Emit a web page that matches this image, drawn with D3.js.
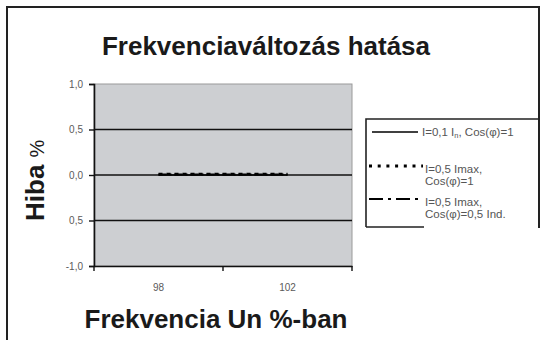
<!DOCTYPE html>
<html><head><meta charset="utf-8">
<script src="https://cdn.jsdelivr.net/npm/d3@7"></script>
<style>
html,body{margin:0;padding:0;background:#fff;}
svg{display:block;}
text{font-family:"Liberation Sans",Arial,sans-serif;}
</style></head>
<body>
<script>
const categories = ["98", "102"];
const yTickValues = [1, 0.5, 0, -0.5, -1];
const yTickLabels = ["1,0", "0,5", "0,0", "0,5", "-1,0"];
const seriesA = [0, 0];
const seriesB = [0.012, 0.012];
const seriesC = [0.006, 0.006];
const legendLabels = [
  ["I=0,1 I|n|, Cos(φ)=1"],
  ["I=0,5 Imax,", "Cos(φ)=1"],
  ["I=0,5 Imax,", "Cos(φ)=0,5 Ind."]
];

const W = 547, H = 340;
const svg = d3.select("body").append("svg").attr("width", W).attr("height", H);

// outer frame (partially visible)
svg.append("path")
  .attr("d", "M7,340 L7,7 L539,7 L539,228")
  .attr("fill", "none").attr("stroke", "#222").attr("stroke-width", 2);

const plot = {x0: 94, x1: 352, y0: 84, y1: 266};
const x = d3.scaleBand().domain(categories).range([plot.x0, plot.x1]);
const y = d3.scaleLinear().domain([-1, 1]).range([plot.y1, plot.y0]);

// plot background
svg.append("rect").attr("x", plot.x0).attr("y", plot.y0)
  .attr("width", plot.x1 - plot.x0).attr("height", plot.y1 - plot.y0)
  .attr("fill", "#cdcfd2").attr("stroke", "#9a9a9a").attr("stroke-width", 1);

// gridlines
svg.append("g").selectAll("line").data(yTickValues.filter(v => v !== 1 && v !== -1))
  .join("line")
  .attr("x1", plot.x0).attr("x2", plot.x1)
  .attr("y1", d => y(d)).attr("y2", d => y(d))
  .attr("stroke", "#111").attr("stroke-width", 1.4);

// y axis
const yAxis = d3.axisLeft(y).tickValues(yTickValues)
  .tickFormat((d, i) => yTickLabels[i]).tickSize(5).tickPadding(6);
const gy = svg.append("g").attr("transform", `translate(${plot.x0},0)`).call(yAxis);
gy.select(".domain").attr("stroke", "#111").attr("stroke-width", 1.6);
gy.selectAll(".tick line").attr("stroke", "#111").attr("stroke-width", 1.4);
gy.selectAll(".tick text").attr("font-size", 10).attr("fill", "#5a5a5a")
  .attr("font-family", "'DejaVu Sans',sans-serif");

// x axis
const xAxis = d3.axisBottom(x).tickSize(0).tickPadding(18);
const gx = svg.append("g").attr("transform", `translate(0,${plot.y1})`).call(xAxis);
gx.select(".domain").attr("stroke", "#111").attr("stroke-width", 1.6);
gx.selectAll(".tick text").attr("font-size", 10).attr("fill", "#5a5a5a")
  .attr("font-family", "'DejaVu Sans',sans-serif");
// category separator ticks
const bounds = [plot.x0, ...categories.map(c => x(c) + x.bandwidth())];
gx.append("g").selectAll("line").data(bounds).join("line")
  .attr("x1", d => d).attr("x2", d => d).attr("y1", 0).attr("y2", 5)
  .attr("stroke", "#111").attr("stroke-width", 1.4);

// series
const line = d3.line().x((d, i) => x(categories[i]) + x.bandwidth() / 2).y(d => y(d));
svg.append("path").datum(seriesA).attr("d", line)
  .attr("fill", "none").attr("stroke", "#000").attr("stroke-width", 1.4);
svg.append("path").datum(seriesC).attr("d", line)
  .attr("fill", "none").attr("stroke", "#000").attr("stroke-width", 2)
  .attr("stroke-dasharray", "8,3,2,3");
svg.append("path").datum(seriesB).attr("d", line)
  .attr("fill", "none").attr("stroke", "#000").attr("stroke-width", 2.5)
  .attr("stroke-dasharray", "4,4");

// title
svg.append("text").attr("x", 266).attr("y", 55).attr("text-anchor", "middle")
  .attr("font-size", 26).attr("font-weight", "bold").attr("fill", "#1a1a1a")
  .text("Frekvenciaváltozás hatása");

// y title
const yt = svg.append("text").attr("transform", "translate(44,221) rotate(-90)")
  .attr("text-anchor", "start").attr("fill", "#1a1a1a");
yt.append("tspan").attr("font-size", 26).attr("font-weight", "bold").text("Hiba ");
yt.append("tspan").attr("font-size", 20).text("%");

// x title
svg.append("text").attr("x", 216).attr("y", 328).attr("text-anchor", "middle")
  .attr("font-size", 26).attr("font-weight", "bold").attr("fill", "#1a1a1a")
  .text("Frekvencia Un %-ban");

// legend
const lg = svg.append("g");
lg.append("path").attr("d", "M366,227 L366,119 L539,119 M366,227 L424,227")
  .attr("fill", "none").attr("stroke", "#222").attr("stroke-width", 1.6);
const entries = [
  {y: 132, dash: null, w: 1.4, x1: 372, x2: 418},
  {y: 166, dash: "3,5.7", w: 3, x1: 369, x2: 423},
  {y: 199, dash: "14,5,3,5", w: 2, x1: 369, x2: 422}
];
entries.forEach((e, i) => {
  lg.append("line").attr("x1", e.x1).attr("x2", e.x2).attr("y1", e.y).attr("y2", e.y)
    .attr("stroke", "#000").attr("stroke-width", e.w)
    .attr("stroke-dasharray", e.dash);
  legendLabels[i].forEach((t, j) => {
    const tx = lg.append("text").attr("x", i === 0 ? 422 : 425).attr("y", e.y + 4 + (i === 0 ? 0 : 3) + j * 12)
      .attr("font-size", 11.5).attr("fill", "#555")
      .attr("font-family", "'DejaVu Sans',sans-serif");
    const parts = t.split("|");
    parts.forEach((p, k) => {
      const ts = tx.append("tspan").text(p);
      if (k === 1) ts.attr("font-size", 7.5).attr("dy", 2);
      if (k === 2) ts.attr("dy", -2);
    });
  });
});
</script>
</body></html>
